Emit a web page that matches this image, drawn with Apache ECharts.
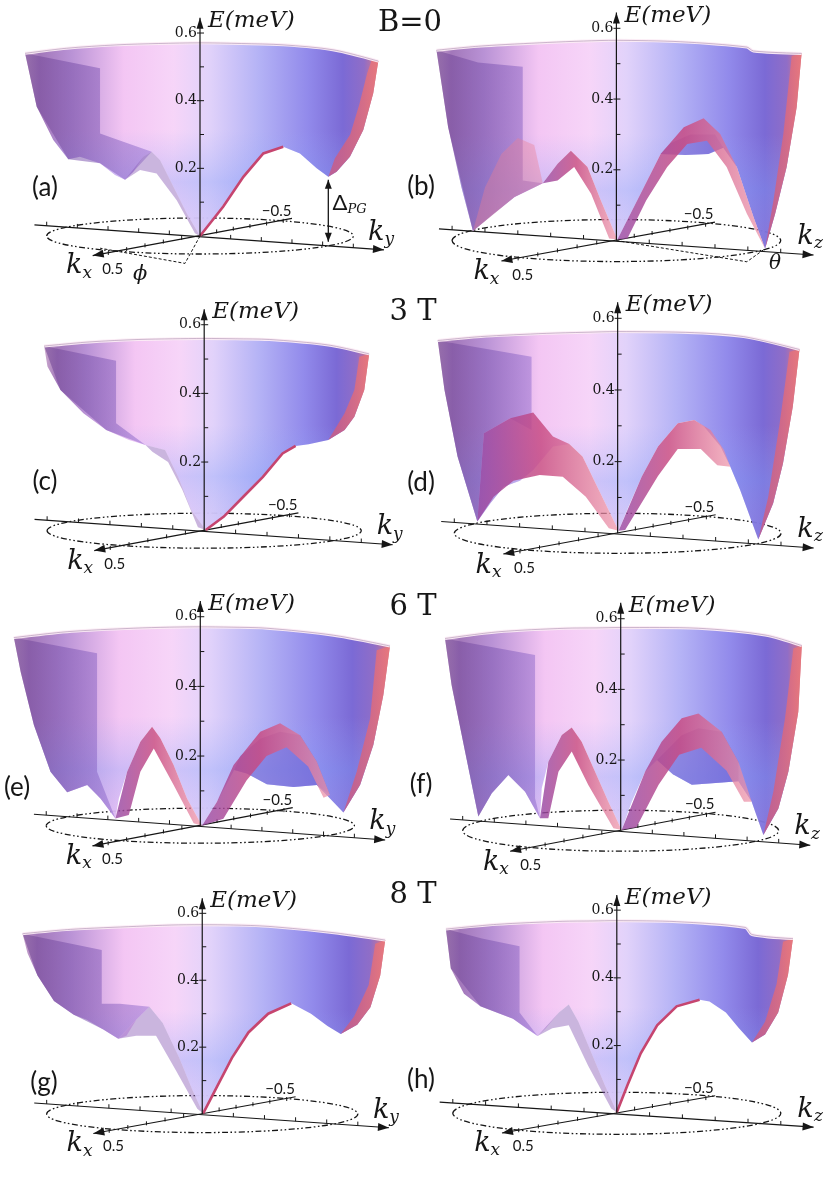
<!DOCTYPE html>
<html>
<head>
<meta charset="utf-8">
<script src="https://cdn.jsdelivr.net/npm/echarts@6.0.0/dist/echarts.min.js"></script>
<style>
  html, body { margin: 0; padding: 0; background: #fff; }
  #chart { width: 830px; height: 1181px; }
</style>
</head>
<body>
<div id="chart"></div>
<script>
// values: x = projected k (ellipse edge = 1), E in meV

// (a) B=0, k_y
const rimA = [[-1.141,0.540],[-0.870,0.555],[-0.543,0.565],[-0.270,0.569],[0,0.571],[0.270,0.569],[0.543,0.565],[0.874,0.550],[1.163,0.517]];
const bottomA = [[1.130,0.422],[1.065,0.313],[0.978,0.234],[0.891,0.190],[0.837,0.175],[0.761,0.200],[0.652,0.244],[0.543,0.264],[0.413,0.244],[0.283,0.175],[0.152,0.087],[0,0],[-0.087,0.067],[-0.174,0.146],[-0.261,0.225],[-0.315,0.249],[-0.370,0.234],[-0.435,0.190],[-0.489,0.166],[-0.554,0.180],[-0.652,0.215],[-0.783,0.234],[-0.859,0.227],[-0.957,0.284],[-1.065,0.382]];
const wallA = [[-1.141,0.540],[-0.652,0.496],[-0.652,0.303],[-0.565,0.289],[-0.315,0.249],[-0.435,0.190],[-0.489,0.166],[-0.652,0.215],[-0.859,0.227],[-1.065,0.382]];
const redA = [[1.163,0.517],[1.130,0.422],[1.065,0.313],[0.978,0.234],[0.891,0.190],[0.837,0.175],[0.880,0.230],[0.980,0.300],[1.040,0.390],[1.090,0.480],[1.120,0.520]];
const lobesA = [[[-0.489,0.166],[-0.370,0.234],[-0.315,0.249],[-0.261,0.225],[-0.174,0.146],[-0.087,0.067],[0,0],[-0.033,0.008],[-0.152,0.106],[-0.283,0.185],[-0.391,0.195]]];
const edgeA = [[0.543,0.264],[0.413,0.244],[0.283,0.175],[0.152,0.087],[0,0]];

// (b) B=0, k_z
const rimB = [[-1.095,0.538],[-0.822,0.550],[-0.418,0.560],[-0.200,0.564],[0,0.566],[0.390,0.562],[0.794,0.547],[0.834,0.536],[1.127,0.529]];
const bottomB = [[1.097,0.377],[1.036,0.208],[0.966,0.076],[0.905,-0.023],[0.834,0.067],[0.733,0.208],[0.650,0.262],[0.560,0.245],[0.420,0.242],[0.269,0.245],[0.147,0.132],[0.006,0.003],[-0.095,0.114],[-0.176,0.208],[-0.277,0.254],[-0.358,0.217],[-0.448,0.162],[-0.620,0.123],[-0.762,0.071],[-0.873,0.027],[-0.943,0.151],[-1.024,0.320]];
const wallB = [[-1.095,0.538],[-0.842,0.503],[-0.570,0.491],[-0.570,0.170],[-0.448,0.162],[-0.620,0.123],[-0.873,0.027],[-1.024,0.320]];
const redB = [[1.127,0.529],[1.097,0.377],[1.036,0.208],[0.966,0.076],[0.905,-0.023],[0.956,0.114],[1.016,0.301],[1.067,0.522]];
const shadeB1 = [[-0.873,0.027],[-0.800,0.150],[-0.700,0.245],[-0.600,0.290],[-0.500,0.270],[-0.448,0.162],[-0.620,0.123]];
const shadeB2 = [[0.269,0.245],[0.420,0.242],[0.560,0.245],[0.650,0.262],[0.600,0.300],[0.450,0.300],[0.330,0.275]];
const lobesB = [
  [[0.006,0.003],[0.147,0.132],[0.269,0.245],[0.410,0.320],[0.531,0.346],[0.632,0.301],[0.733,0.208],[0.834,0.067],[0.905,-0.023],[0.794,0.076],[0.671,0.208],[0.551,0.282],[0.431,0.273],[0.309,0.208],[0.182,0.114],[0.067,0.006]],
  [[-0.448,0.162],[-0.358,0.217],[-0.277,0.254],[-0.176,0.208],[-0.095,0.114],[0.006,0.003],[-0.044,0.006],[-0.154,0.132],[-0.257,0.208],[-0.358,0.170]]
];

// (c) 3 T, k_y
const rimC = [[-1.019,0.538],[-0.728,0.550],[-0.416,0.557],[-0.200,0.559],[0,0.560],[0.200,0.559],[0.416,0.557],[0.790,0.541],[1.050,0.515]];
const bottomC = [[1.019,0.410],[0.956,0.332],[0.894,0.293],[0.790,0.264],[0.665,0.252],[0.582,0.247],[0.499,0.225],[0.374,0.157],[0.249,0.099],[0.125,0.041],[0.010,0.002],[-0.083,0.060],[-0.166,0.157],[-0.249,0.235],[-0.374,0.250],[-0.478,0.264],[-0.624,0.293],[-0.769,0.342],[-0.915,0.410],[-0.998,0.478]];
const wallC = [[-1.019,0.538],[-0.561,0.495],[-0.561,0.313],[-0.374,0.250],[-0.624,0.293],[-0.915,0.410]];
const redC = [[1.050,0.515],[1.019,0.410],[0.956,0.332],[0.894,0.293],[0.790,0.264],[0.894,0.342],[0.956,0.410],[0.988,0.507]];
const lobesC = [[[-0.374,0.250],[-0.249,0.235],[-0.166,0.157],[-0.083,0.060],[0.010,0.002],[-0.040,0.010],[-0.140,0.120],[-0.230,0.200],[-0.330,0.230]]];
const edgeC = [[0.582,0.247],[0.499,0.225],[0.374,0.157],[0.249,0.099],[0.125,0.041],[0.010,0.002]];

// (d) 3 T, k_z
const rimD = [[-1.101,0.538],[-0.839,0.549],[-0.437,0.558],[-0.200,0.561],[0,0.563],[0.469,0.560],[0.771,0.549],[1.113,0.513]];
const bottomD = [[1.072,0.353],[1.012,0.195],[0.952,0.084],[0.861,-0.017],[0.750,0.121],[0.690,0.186],[0.630,0.242],[0.529,0.298],[0.469,0.316],[0.368,0.307],[0.247,0.242],[0.147,0.158],[0.066,0.074],[0.006,0.007],[-0.115,0.121],[-0.215,0.214],[-0.296,0.249],[-0.396,0.242],[-0.517,0.177],[-0.598,0.147],[-0.698,0.130],[-0.779,0.084],[-0.859,0.033],[-0.980,0.214],[-1.060,0.400]];
const wallD = [[-1.101,0.538],[-0.527,0.493],[-0.527,0.288],[-0.658,0.321],[-0.819,0.279],[-0.859,0.033],[-0.980,0.214],[-1.060,0.400]];
const redD = [[1.113,0.513],[1.072,0.353],[1.012,0.195],[0.952,0.084],[0.861,-0.017],[0.922,0.102],[0.992,0.307],[1.052,0.507]];
const lobesD = [
  [[0.006,0.007],[0.147,0.158],[0.247,0.242],[0.368,0.307],[0.469,0.316],[0.569,0.288],[0.650,0.233],[0.690,0.186],[0.610,0.190],[0.509,0.235],[0.368,0.235],[0.247,0.160],[0.127,0.070],[0.046,0.009]],
  [[-0.859,0.033],[-0.819,0.279],[-0.658,0.321],[-0.517,0.337],[-0.396,0.270],[-0.296,0.249],[-0.215,0.214],[-0.115,0.121],[0.006,0.007],[-0.054,0.014],[-0.195,0.102],[-0.336,0.158],[-0.477,0.163],[-0.638,0.147],[-0.759,0.102]]
];

// (e) 6 T, k_y
const rimE = [[-1.210,0.540],[-0.864,0.557],[-0.432,0.567],[-0.200,0.570],[0,0.571],[0.200,0.570],[0.432,0.567],[0.864,0.547],[1.231,0.516]];
const bottomE = [[1.188,0.375],[1.123,0.232],[1.037,0.117],[0.929,0.038],[0.842,0.078],[0.756,0.117],[0.605,0.111],[0.432,0.119],[0.302,0.150],[0.220,0.160],[0.108,0.069],[0.011,0],[-0.086,0.078],[-0.173,0.174],[-0.259,0.251],[-0.313,0.284],[-0.389,0.241],[-0.475,0.155],[-0.529,0.078],[-0.551,0.021],[-0.648,0.078],[-0.734,0.117],[-0.864,0.096],[-0.972,0.155],[-1.080,0.289],[-1.166,0.442]];
const wallE = [[-1.210,0.540],[-0.670,0.495],[-0.670,0.155],[-0.551,0.021],[-0.648,0.078],[-0.734,0.117],[-0.864,0.096],[-0.972,0.155],[-1.080,0.289],[-1.166,0.442]];
const redE = [[1.231,0.516],[1.188,0.375],[1.123,0.232],[1.037,0.117],[0.929,0.038],[1.015,0.155],[1.102,0.308],[1.145,0.504]];
const shadeE = [[0.220,0.160],[0.302,0.150],[0.432,0.119],[0.605,0.111],[0.756,0.117],[0.842,0.088],[0.756,0.184],[0.648,0.260],[0.518,0.270],[0.389,0.250],[0.259,0.200]];
const lobesE = [
  [[0.011,0],[0.108,0.069],[0.216,0.174],[0.389,0.270],[0.518,0.294],[0.648,0.260],[0.756,0.184],[0.842,0.088],[0.800,0.080],[0.700,0.170],[0.560,0.225],[0.430,0.200],[0.300,0.130],[0.150,0.020]],
  [[-0.551,0.021],[-0.475,0.155],[-0.389,0.241],[-0.313,0.284],[-0.259,0.251],[-0.173,0.174],[-0.086,0.078],[0.011,0],[-0.043,0.007],[-0.173,0.117],[-0.302,0.222],[-0.389,0.155],[-0.464,0.031]]
];

// (f) 6 T, k_z
const rimF = [[-1.112,0.544],[-0.774,0.563],[-0.352,0.573],[-0.150,0.574],[0,0.575],[0.492,0.573],[0.914,0.554],[1.146,0.524]];
const bottomF = [[1.124,0.337],[1.061,0.167],[0.998,0.063],[0.903,-0.012],[0.829,0.082],[0.745,0.140],[0.600,0.135],[0.450,0.130],[0.330,0.160],[0.230,0.200],[0.154,0.167],[0.070,0.082],[0.006,0.002],[-0.078,0.082],[-0.162,0.167],[-0.247,0.252],[-0.310,0.292],[-0.373,0.271],[-0.458,0.195],[-0.500,0.120],[-0.511,0.035],[-0.605,0.110],[-0.711,0.158],[-0.816,0.106],[-0.901,0.040],[-0.985,0.224],[-1.070,0.412]];
const wallF = [[-1.112,0.544],[-0.542,0.497],[-0.542,0.092],[-0.511,0.035],[-0.605,0.110],[-0.711,0.158],[-0.816,0.106],[-0.901,0.040],[-0.985,0.224],[-1.070,0.412]];
const redF = [[1.146,0.524],[1.124,0.337],[1.061,0.167],[0.998,0.063],[0.903,-0.012],[0.966,0.110],[1.040,0.318],[1.093,0.516]];
const shadeF = [[0.230,0.200],[0.330,0.160],[0.450,0.130],[0.600,0.135],[0.745,0.140],[0.745,0.195],[0.639,0.280],[0.492,0.290],[0.386,0.270]];
const lobesF = [
  [[0.006,0.002],[0.154,0.167],[0.259,0.252],[0.386,0.318],[0.492,0.332],[0.639,0.280],[0.745,0.195],[0.829,0.082],[0.780,0.082],[0.670,0.170],[0.510,0.235],[0.370,0.215],[0.240,0.130],[0.100,0.010]],
  [[-0.511,0.035],[-0.458,0.195],[-0.373,0.271],[-0.310,0.292],[-0.247,0.252],[-0.162,0.167],[-0.078,0.082],[0.006,0.002],[-0.046,0.007],[-0.205,0.129],[-0.310,0.224],[-0.394,0.167],[-0.458,0.035]]
];

// (g) 8 T, k_y
const rimG = [[-1.155,0.539],[-0.847,0.552],[-0.424,0.561],[-0.200,0.565],[0,0.566],[0.200,0.565],[0.424,0.561],[0.847,0.542],[1.176,0.520]];
const bottomG = [[1.144,0.414],[1.081,0.319],[0.996,0.267],[0.890,0.239],[0.805,0.263],[0.699,0.300],[0.572,0.331],[0.424,0.300],[0.297,0.244],[0.191,0.168],[0.095,0.082],[0.006,0.002],[-0.064,0.073],[-0.148,0.168],[-0.254,0.272],[-0.339,0.321],[-0.424,0.282],[-0.487,0.234],[-0.540,0.225],[-0.636,0.253],[-0.742,0.282],[-0.826,0.297],[-0.953,0.338],[-1.059,0.414],[-1.123,0.481]];
const wallG = [[-1.155,0.539],[-0.646,0.490],[-0.646,0.330],[-0.530,0.330],[-0.339,0.321],[-0.424,0.282],[-0.540,0.225],[-0.636,0.253],[-0.826,0.297],[-0.953,0.338],[-1.059,0.414]];
const redG = [[1.176,0.520],[1.144,0.414],[1.081,0.319],[0.996,0.267],[0.890,0.239],[0.975,0.291],[1.070,0.386],[1.112,0.509]];
const lobesG = [[[-0.540,0.225],[-0.424,0.282],[-0.339,0.321],[-0.254,0.272],[-0.148,0.168],[-0.064,0.073],[0.006,0.002],[-0.032,0.016],[-0.169,0.130],[-0.297,0.234],[-0.424,0.234]]];
const edgeG = [[0.572,0.331],[0.424,0.300],[0.297,0.244],[0.191,0.168],[0.095,0.082],[0.006,0.002]];

// (h) 8 T, k_z
const rimH = [[-1.042,0.544],[-0.733,0.558],[-0.333,0.567],[-0.150,0.568],[0,0.569],[0.365,0.566],[0.784,0.549],[0.824,0.528],[1.074,0.516]];
const bottomH = [[1.044,0.409],[0.984,0.298],[0.904,0.233],[0.824,0.209],[0.745,0.251],[0.665,0.298],[0.565,0.330],[0.505,0.335],[0.365,0.316],[0.246,0.260],[0.146,0.177],[0.066,0.084],[0,0.003],[-0.074,0.084],[-0.154,0.177],[-0.234,0.270],[-0.293,0.321],[-0.353,0.298],[-0.433,0.251],[-0.483,0.228],[-0.553,0.251],[-0.633,0.279],[-0.733,0.298],[-0.832,0.316],[-0.932,0.353],[-1.012,0.428]];
const wallH = [[-1.042,0.544],[-0.822,0.516],[-0.593,0.493],[-0.593,0.298],[-0.483,0.228],[-0.633,0.279],[-0.832,0.316],[-1.012,0.428]];
const redH = [[1.074,0.516],[1.044,0.409],[0.984,0.298],[0.904,0.233],[0.824,0.209],[0.904,0.270],[0.974,0.381],[1.014,0.507]];
const lobesH = [[[-0.483,0.228],[-0.353,0.298],[-0.293,0.321],[-0.234,0.270],[-0.154,0.177],[-0.074,0.084],[0,0.003],[-0.034,0.014],[-0.174,0.140],[-0.293,0.260],[-0.393,0.251]]];
const edgeH = [[0.505,0.335],[0.365,0.316],[0.246,0.260],[0.146,0.177],[0.066,0.084],[0,0.003]];

// axes in the base plane (shared by all panels)
const kLongLine = [[-1.08,0.033],[1.2,-0.041]];
const kxLine = [[0.6,0.052],[-0.7,-0.058]];
const kxPlusHalf = [-0.598,-0.056];   // where k_x = 0.5 sits
const kxMinusHalf = [0.543,0.039];    // where k_x = -0.5 sits
const kLongTicks = [-1,-0.8,-0.6,-0.4,-0.2,0.2,0.4,0.6,0.8,1];
const kxTicks = [-0.5,-0.4,-0.3,-0.2,-0.1,0.1,0.2,0.3,0.4,0.5];
const eTicks = [0.1,0.2,0.3,0.4,0.5,0.6];
const eTickLabels = [0.2,0.4,0.6];
const eAxisTop = 0.645;

const panelLabels = ['(a)','(b)','(c)','(d)','(e)','(f)','(g)','(h)'];
const fieldTitles = ['B=0','3 T','6 T','8 T'];
const longAxisName = ['y','z','y','z','y','z','y','z'];
const lobeTone = ['purple','magenta','purple','magenta','magenta','magenta','purple','purple'];

// layout (pixels) and per-panel fills
const panelCx = [200, 617.3, 200, 620.7, 200, 620.7, 200, 620.7];
const panelCy = [236, 240.3, 530.7, 533.3, 825.7, 830.7, 1125.7, 1126.7];
const panelRx = [153.3, 165, 160.3, 165.7, 154.3, 158, 157.3, 167];
const panelS = [338.3, 355, 343.3, 358.3, 348.3, 353.3, 351.7, 358.3];
const ellipseRy = [18, 21, 17.5, 20, 17.5, 20.5, 18.5, 21];
const labelPos = [[45,188],[421,187],[45,482],[421,483],[17,788],[421,785],[44,1083],[421,1080]];
const titlePos = [[410,23],[413,312],[413,607],[413,895]];
const shadeFill = {
  pink: 'rgba(236,125,145,0.38)',
  deep: 'rgba(95,75,195,0.42)'
};

const panels = [
  { rim: rimA, bottom: bottomA, wall: wallA, red: redA, shades: [], lobes: lobesA, edge: edgeA },
  { rim: rimB, bottom: bottomB, wall: wallB, red: redB, shades: [[shadeB1, 'pink'], [shadeB2, 'deep']], lobes: lobesB, edge: null },
  { rim: rimC, bottom: bottomC, wall: wallC, red: redC, shades: [], lobes: lobesC, edge: edgeC },
  { rim: rimD, bottom: bottomD, wall: wallD, red: redD, shades: [], lobes: lobesD, edge: null },
  { rim: rimE, bottom: bottomE, wall: wallE, red: redE, shades: [[shadeE, 'deep']], lobes: lobesE, edge: null },
  { rim: rimF, bottom: bottomF, wall: wallF, red: redF, shades: [[shadeF, 'deep']], lobes: lobesF, edge: null },
  { rim: rimG, bottom: bottomG, wall: wallG, red: redG, shades: [], lobes: lobesG, edge: edgeG },
  { rim: rimH, bottom: bottomH, wall: wallH, red: redH, shades: [], lobes: lobesH, edge: edgeH }
];

const X_MIN = -1.3, X_MAX = 1.3, Y_MIN = -0.2, Y_MAX = 0.68;
const INK = '#161616';
const G = echarts.graphic.LinearGradient;

function arrowHead(tip, from, len, half) {
  const dx = tip[0] - from[0], dy = tip[1] - from[1];
  const L = Math.hypot(dx, dy) || 1;
  const ux = dx / L, uy = dy / L;
  const bx = tip[0] - ux * len, by = tip[1] - uy * len;
  return { type: 'polygon', shape: { points: [[tip[0], tip[1]], [bx - uy * half, by + ux * half], [bx + uy * half, by - ux * half]] }, style: { fill: INK } };
}

function txt(x, y, text, size, family, fontStyle, align) {
  return { type: 'text', x: x, y: y, style: { text: text, fill: INK, fontSize: size, fontFamily: family, fontStyle: fontStyle || 'normal', align: align || 'center', verticalAlign: 'middle' } };
}

function line(a, b, w, dash) {
  return { type: 'line', shape: { x1: a[0], y1: a[1], x2: b[0], y2: b[1] }, style: { stroke: INK, lineWidth: w || 1, lineDash: dash || null } };
}

function surfaceFill() {
  return new G(0, 0, 1, 0, [
    { offset: 0, color: '#caa6cc' }, { offset: 0.04, color: '#9d70b6' },
    { offset: 0.13, color: '#b58cd3' }, { offset: 0.28, color: '#f3c3f3' },
    { offset: 0.42, color: '#f6d3f8' }, { offset: 0.52, color: '#e0d0fa' },
    { offset: 0.66, color: '#b1aff5' }, { offset: 0.8, color: '#8c84ea' },
    { offset: 0.9, color: '#7462d3' }, { offset: 0.96, color: '#8a66c4' },
    { offset: 1, color: '#d9707f' }
  ]);
}

function renderPanel(i) {
  const p = panels[i];
  return function (params, api) {
    if (params.dataIndex !== 0) return null;
    const c = function (pt) { return api.coord(pt); };
    const P = function (pts) { return pts.map(c); };
    const kids = [];
    const o = c([0, 0]);
    const rxPx = api.size([1, 0])[0];

    // base plane: dash-dot-dot ellipse and the two k axes
    kids.push({ type: 'ellipse', shape: { cx: o[0], cy: o[1], rx: rxPx, ry: ellipseRy[i] },
      style: { fill: 'none', stroke: INK, lineWidth: 1.3, lineDash: [6, 2.5, 1.6, 2.5, 1.6, 2.5] } });
    const kl0 = c(kLongLine[0]), kl1 = c(kLongLine[1]);
    kids.push(line(kl0, kl1, 1.1));
    kids.push(arrowHead(kl1, kl0, 11, 4));
    kLongTicks.forEach(function (u) {
      const t = (u - kLongLine[0][0]) / (kLongLine[1][0] - kLongLine[0][0]);
      const e = kLongLine[0][1] + t * (kLongLine[1][1] - kLongLine[0][1]);
      const q = c([u, e]);
      kids.push(line([q[0], q[1]], [q[0], q[1] - 4], 1));
    });
    const kx0 = c(kxLine[0]), kx1 = c(kxLine[1]);
    kids.push(line(kx0, kx1, 1.1));
    kids.push(arrowHead(kx1, kx0, 11, 4));
    kxTicks.forEach(function (k) {
      const end = k > 0 ? kxPlusHalf : kxMinusHalf;
      const f = Math.abs(k) / 0.5;
      const q = c([end[0] * f, end[1] * f]);
      kids.push(line([q[0], q[1]], [q[0], q[1] - 4], 1));
    });

    // surface
    const sil = P(p.rim.concat(p.bottom));
    kids.push({ type: 'polygon', shape: { points: sil }, style: { fill: surfaceFill(), opacity: 0.95 } });
    kids.push({ type: 'polygon', shape: { points: sil }, style: { fill: new G(0, 0, 0, 1, [
      { offset: 0, color: 'rgba(150,170,250,0)' }, { offset: 0.45, color: 'rgba(150,170,250,0)' },
      { offset: 0.72, color: 'rgba(130,160,250,0.34)' }, { offset: 1, color: 'rgba(170,170,245,0.2)' }
    ]) } });
    kids.push({ type: 'polygon', shape: { points: P(p.wall) }, style: { fill: new G(0, 0, 1, 0, [
      { offset: 0, color: 'rgba(118,74,150,0.62)' }, { offset: 1, color: 'rgba(128,92,200,0.42)' }
    ]) } });
    p.shades.forEach(function (s) {
      kids.push({ type: 'polygon', shape: { points: P(s[0]) }, style: { fill: shadeFill[s[1]] } });
    });
    kids.push({ type: 'polygon', shape: { points: P(p.red) }, style: { fill: new G(0, 0, 1, 0, [
      { offset: 0, color: 'rgba(205,85,125,0.75)' }, { offset: 1, color: 'rgba(232,120,125,0.9)' }
    ]) } });
    p.lobes.forEach(function (lobe) {
      const fill = lobeTone[i] === 'magenta'
        ? new G(0, 0, 1, 0, [
            { offset: 0, color: 'rgba(150,72,165,0.82)' }, { offset: 0.45, color: 'rgba(200,74,130,0.84)' },
            { offset: 1, color: 'rgba(238,150,170,0.72)' }])
        : 'rgba(138,92,182,0.45)';
      kids.push({ type: 'polygon', shape: { points: P(lobe) }, style: { fill: fill } });
    });
    if (p.edge) {
      kids.push({ type: 'polyline', shape: { points: P(p.edge) }, style: { stroke: '#c6456f', lineWidth: 2.6, fill: 'none' } });
    }
    kids.push({ type: 'polyline', shape: { points: P(p.rim), smooth: 0.3 }, style: { stroke: 'rgba(252,236,246,0.95)', lineWidth: 3, fill: 'none' } });
    kids.push({ type: 'polyline', shape: { points: P(p.rim), smooth: 0.3 }, style: { stroke: 'rgba(140,110,150,0.55)', lineWidth: 0.8, fill: 'none' } });

    // energy axis
    const top = c([0, eAxisTop]);
    kids.push(line(o, top, 1.2));
    kids.push(arrowHead(top, o, 11, 3.5));
    eTicks.forEach(function (v) {
      const q = c([0, v]);
      kids.push(line([q[0], q[1]], [q[0] + 4, q[1]], 1));
    });
    eTickLabels.forEach(function (v) {
      const q = c([0, v]);
      kids.push(line([q[0] - 3, q[1]], [q[0], q[1]], 1));
      kids.push(txt(q[0] - 3, q[1], v.toFixed(1), 14, 'DejaVu Serif', 'normal', 'right'));
    });
    const el = c([0, 0.636]);
    kids.push(txt(el[0] + 8, el[1], 'E(meV)', 23, 'DejaVu Serif', 'italic', 'left'));

    // axis names and k_x tick labels
    const kn = c([1.15, 0.01]);
    kids.push(txt(kn[0], kn[1], 'k', 27, 'DejaVu Serif', 'italic'));
    kids.push(txt(kn[0] + 13, kn[1] + 7, longAxisName[i], 17, 'DejaVu Serif', 'italic'));
    const kxn = c([-0.82, -0.09]);
    kids.push(txt(kxn[0], kxn[1], 'k', 27, 'DejaVu Serif', 'italic'));
    kids.push(txt(kxn[0] + 13, kxn[1] + 7, 'x', 17, 'DejaVu Serif', 'italic'));
    const lm = c([0.5, 0.074]);
    kids.push(txt(lm[0], lm[1], '\u22120.5', 15, 'Lato'));
    const lp = c([-0.57, -0.097]);
    kids.push(txt(lp[0], lp[1], '0.5', 15, 'Lato'));

    // angle / gap annotations
    if (i === 0) {
      const a0 = c([0.837, 0.166]), a1 = c([0.837, -0.017]);
      kids.push(line(a0, a1, 1.3));
      kids.push(arrowHead(a0, a1, 9, 3.5));
      kids.push(arrowHead(a1, a0, 9, 3.5));
      const dl = c([0.865, 0.097]);
      kids.push(txt(dl[0], dl[1], '\u0394', 22, 'Lato', 'normal', 'left'));
      kids.push(txt(dl[0] + 15, dl[1] + 6, 'PG', 13, 'DejaVu Serif', 'italic', 'left'));
      kids.push({ type: 'polyline', shape: { points: P([[0, 0], [-0.098, -0.081], [-0.652, -0.036]]) },
        style: { stroke: INK, lineWidth: 1, lineDash: [3, 2], fill: 'none' } });
      const ph = c([-0.39, -0.115]);
      kids.push(txt(ph[0], ph[1], '\u03d5', 21, 'DejaVu Serif', 'italic'));
    }
    if (i === 1) {
      kids.push({ type: 'polyline', shape: { points: P([[0, 0], [0.794, -0.060], [0.905, -0.023]]) },
        style: { stroke: INK, lineWidth: 1, lineDash: [3, 2], fill: 'none' } });
      const th = c([0.966, -0.065]);
      kids.push(txt(th[0], th[1], '\u03b8', 20, 'DejaVu Serif', 'italic'));
    }
    return { type: 'group', children: kids };
  };
}

const grids = [], xAxes = [], yAxes = [], series = [];
panels.forEach(function (p, i) {
  grids.push({
    left: panelCx[i] + X_MIN * panelRx[i], width: (X_MAX - X_MIN) * panelRx[i],
    top: panelCy[i] - Y_MAX * panelS[i], height: (Y_MAX - Y_MIN) * panelS[i]
  });
  xAxes.push({ gridIndex: i, type: 'value', min: X_MIN, max: X_MAX, show: false });
  yAxes.push({ gridIndex: i, type: 'value', min: Y_MIN, max: Y_MAX, show: false });
  series.push({
    type: 'custom', xAxisIndex: i, yAxisIndex: i, clip: false, silent: true,
    data: p.rim.concat(p.bottom), encode: { x: 0, y: 1 },
    renderItem: renderPanel(i)
  });
});

const graphics = [];
fieldTitles.forEach(function (t, r) {
  graphics.push({ type: 'text', x: titlePos[r][0], y: titlePos[r][1], z: 10,
    style: { text: t, fill: INK, fontSize: 29, fontFamily: 'DejaVu Serif', align: 'center', verticalAlign: 'middle' } });
});
panelLabels.forEach(function (t, i) {
  graphics.push({ type: 'text', x: labelPos[i][0], y: labelPos[i][1], z: 10,
    style: { text: t, fill: INK, fontSize: 26, fontFamily: 'Lato', align: 'center', verticalAlign: 'middle' } });
});

const chart = echarts.init(document.getElementById('chart'), null, { renderer: 'canvas' });
chart.setOption({
  animation: false,
  backgroundColor: '#ffffff',
  grid: grids,
  xAxis: xAxes,
  yAxis: yAxes,
  series: series,
  graphic: graphics
});
</script>
</body>
</html>
